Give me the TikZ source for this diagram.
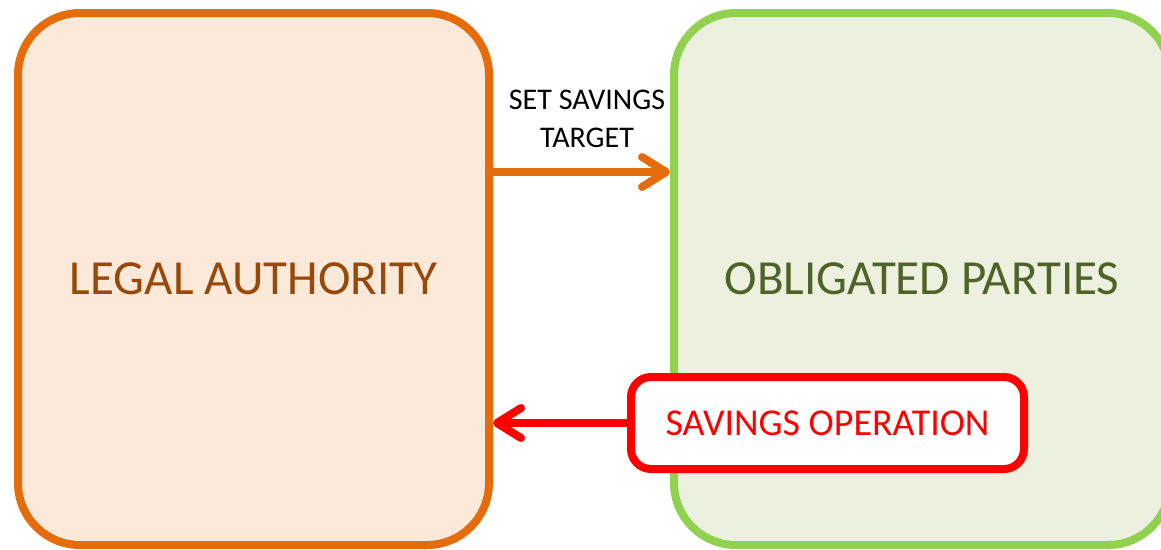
\documentclass[tikz,border=0pt]{standalone}
\usepackage{fontspec}
\setmainfont{Carlito}
\usetikzlibrary{arrows.meta}
\definecolor{laFill}{HTML}{FDE9D9}
\definecolor{laLine}{HTML}{E46C0A}
\definecolor{laText}{HTML}{984807}
\definecolor{opFill}{HTML}{EBF1DE}
\definecolor{opLine}{HTML}{92D050}
\definecolor{opText}{HTML}{4F6228}
\begin{document}
\begin{tikzpicture}[x=1pt,y=-1pt,
  bigbox/.style={draw, line width=8pt, rounded corners=62pt, inner sep=0pt,
    font=\fontsize{49}{55}\selectfont},
  smallbox/.style={draw=red, fill=white, line width=8pt, rounded corners=20pt,
    inner sep=0pt, text=red, font=\fontsize{38}{42}\selectfont},
  barb/.tip={Straight Barb[length=24pt,width=30pt,line cap=round,line join=round]},
  conn/.style={line width=8pt, -barb}
]
\useasboundingbox (0,0) rectangle (1161,549);
\node[bigbox, draw=laLine, fill=laFill, text=laText, minimum width=471pt, minimum height=532pt]
  (LA) at (253.5,279) {LEGAL AUTHORITY};
\node[bigbox, draw=opLine, fill=opFill, text=opText, minimum width=496pt, minimum height=532pt]
  (OP) at (922,279) {OBLIGATED PARTIES};
\node[smallbox, minimum width=393pt, minimum height=92pt] (SO) at (827.5,423) {SAVINGS OPERATION};
\coordinate (topy) at (0,172);
\draw[conn, draw=laLine] (LA.east |- topy) -- node[above=20pt, xshift=5.5pt, inner sep=0pt, align=center,
    font=\fontsize{30}{38}\selectfont, text=black] (SL) {SET SAVINGS\\TARGET} (OP.west |- topy);
\draw[conn, draw=red] (SO.west) -- (LA.east |- SO.west);
\end{tikzpicture}
\end{document}
